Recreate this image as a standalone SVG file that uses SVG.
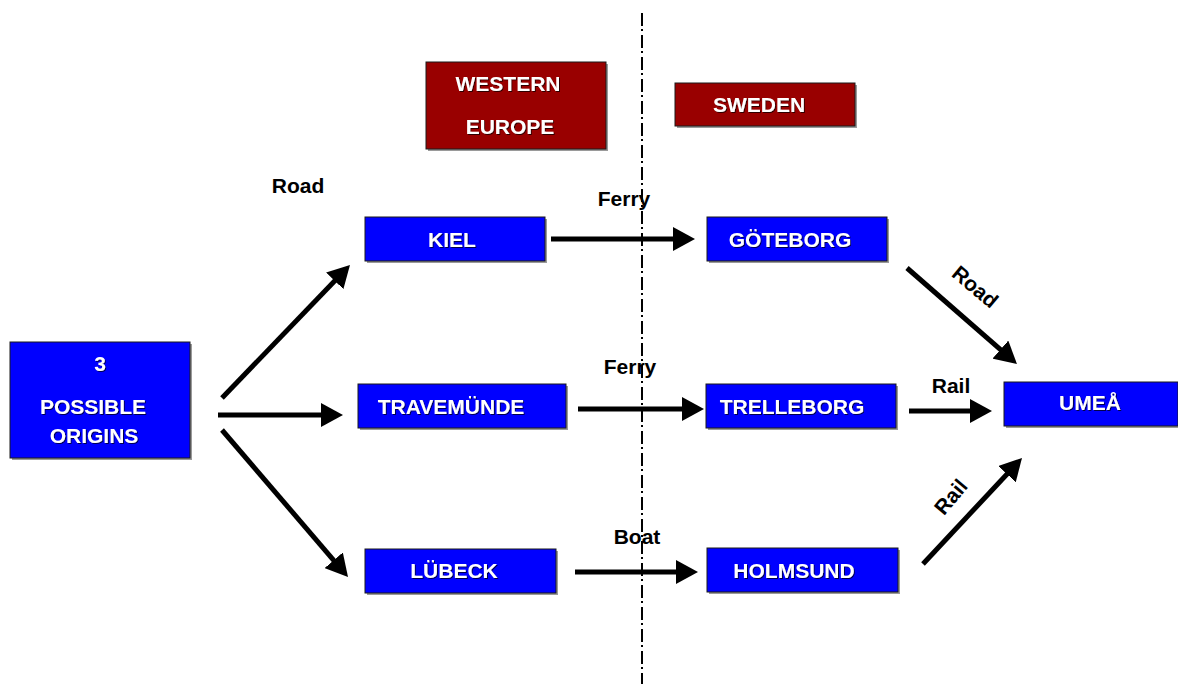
<svg xmlns="http://www.w3.org/2000/svg" width="1178" height="684" viewBox="0 0 1178 684">
  <style>
    .box { stroke: #1a1a1a; stroke-width: 1; }
    .blue { fill: #0000ff; }
    .red { fill: #990000; }
    .shadow { fill: #9a9a9a; }
    .t { font-family: "Liberation Sans", Arial, sans-serif; font-weight: bold; font-size: 21px; fill: #ffffff; text-anchor: middle; filter: url(#ts); }
    .lbl { font-family: "Liberation Sans", Arial, sans-serif; font-weight: bold; font-size: 21px; fill: #000000; text-anchor: middle; }
    .arrow { stroke: #000; stroke-width: 5; fill: none; marker-end: url(#head); }
    .border { stroke: #000; stroke-width: 2; fill: none; stroke-dasharray: 13 3 2 4; }
  </style>
  <defs>
    <marker id="head" markerUnits="userSpaceOnUse" markerWidth="22" markerHeight="24" refX="4" refY="12" orient="auto" viewBox="0 0 22 24">
      <path d="M0,0 L22,12 L0,24 Z" fill="#000"/>
    </marker>
    <filter id="ts" x="-10%" y="-30%" width="120%" height="160%">
      <feDropShadow dx="1" dy="1" stdDeviation="0.3" flood-color="#000" flood-opacity="0.7"/>
    </filter>
  </defs>

  <!-- border between regions -->
  <line class="border" x1="642" y1="13" x2="642" y2="684"/>

  <!-- region headers -->
  <g id="western-europe">
    <rect class="shadow" x="428" y="64" width="180" height="87"/>
    <rect class="box red" x="426" y="62" width="180" height="87"/>
    <text class="t" x="508" y="91">WESTERN</text>
    <text class="t" x="510" y="134">EUROPE</text>
  </g>
  <g id="sweden">
    <rect class="shadow" x="677" y="85" width="180" height="43"/>
    <rect class="box red" x="675" y="83" width="180" height="43"/>
    <text class="t" x="759" y="112">SWEDEN</text>
  </g>

  <!-- locations -->
  <g id="origins">
    <rect class="shadow" x="12" y="344" width="180" height="116"/>
    <rect class="box blue" x="10" y="342" width="180" height="116"/>
    <text class="t" x="100" y="371">3</text>
    <text class="t" x="93" y="414">POSSIBLE</text>
    <text class="t" x="94" y="443">ORIGINS</text>
  </g>
  <g id="kiel">
    <rect class="shadow" x="367" y="219" width="180" height="44"/>
    <rect class="box blue" x="365" y="217" width="180" height="44"/>
    <text class="t" x="452" y="247">KIEL</text>
  </g>
  <g id="travemunde">
    <rect class="shadow" x="360" y="386" width="208" height="44"/>
    <rect class="box blue" x="358" y="384" width="208" height="44"/>
    <text class="t" x="451" y="414">TRAVEMÜNDE</text>
  </g>
  <g id="lubeck">
    <rect class="shadow" x="367" y="551" width="191" height="44"/>
    <rect class="box blue" x="365" y="549" width="191" height="44"/>
    <text class="t" x="454" y="578">LÜBECK</text>
  </g>
  <g id="goteborg">
    <rect class="shadow" x="709" y="219" width="180" height="44"/>
    <rect class="box blue" x="707" y="217" width="180" height="44"/>
    <text class="t" x="790" y="247">GÖTEBORG</text>
  </g>
  <g id="trelleborg">
    <rect class="shadow" x="708" y="386" width="190" height="44"/>
    <rect class="box blue" x="706" y="384" width="190" height="44"/>
    <text class="t" x="792" y="414">TRELLEBORG</text>
  </g>
  <g id="holmsund">
    <rect class="shadow" x="709" y="550" width="191" height="44"/>
    <rect class="box blue" x="707" y="548" width="191" height="44"/>
    <text class="t" x="794" y="578">HOLMSUND</text>
  </g>
  <g id="umea">
    <rect class="shadow" x="1006" y="384" width="174" height="44"/>
    <rect class="box blue" x="1004" y="382" width="174" height="44"/>
    <text class="t" x="1090" y="410">UMEÅ</text>
  </g>

  <!-- routes -->
  <g id="connectors">
    <line class="arrow" x1="222" y1="398" x2="337.5" y2="278"/>
    <line class="arrow" x1="218" y1="415" x2="325" y2="415"/>
    <line class="arrow" x1="222" y1="430" x2="336.3" y2="563.3"/>
    <line class="arrow" x1="551" y1="239" x2="677" y2="239"/>
    <line class="arrow" x1="578" y1="409" x2="686" y2="409"/>
    <line class="arrow" x1="575" y1="572" x2="680" y2="572"/>
    <line class="arrow" x1="907" y1="268" x2="1003.4" y2="352.2"/>
    <line class="arrow" x1="909" y1="411" x2="974" y2="411"/>
    <line class="arrow" x1="923" y1="564" x2="1009.7" y2="471.2"/>
  </g>

  <!-- route labels -->
  <g id="labels">
    <text class="lbl" x="298" y="193">Road</text>
    <text class="lbl" x="624" y="206">Ferry</text>
    <text class="lbl" x="630" y="374">Ferry</text>
    <text class="lbl" x="637" y="544">Boat</text>
    <text class="lbl" x="951" y="393">Rail</text>
    <text class="lbl" transform="translate(975,287) rotate(40)" y="7">Road</text>
    <text class="lbl" transform="translate(951,497) rotate(-50)" y="7">Rail</text>
  </g>
</svg>
